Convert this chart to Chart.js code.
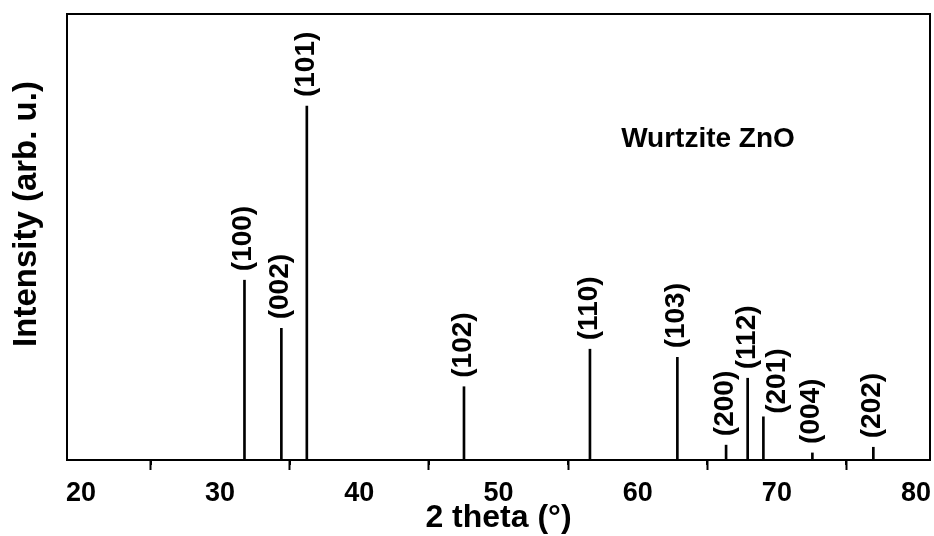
<!DOCTYPE html>
<html lang="en">

<head>
    <meta charset="UTF-8">
    <title>Wurtzite ZnO XRD</title>
    <script src="https://cdn.jsdelivr.net/npm/chart.js"></script>
    <style>
        body {
            margin: 0;
            background: #fff;
        }
    </style>
</head>

<body>
    <canvas id="grafico" width="934" height="536"></canvas>

    <script>
        // peak positions (2 theta), intensities and Miller indices
        const posiciones = [31.75, 34.40, 36.23, 47.52, 56.57, 62.85, 66.35, 67.90, 69.03, 72.55, 76.93];
        const intensidades = [50.8, 37.2, 100, 20.7, 31.3, 29.0, 4.2, 23.1, 12.2, 2.0, 3.6];
        const indices = ['(100)', '(002)', '(101)', '(102)', '(110)', '(103)', '(200)', '(112)', '(201)', '(004)', '(202)'];
        const ticksX = [20, 30, 40, 50, 60, 70, 80];
        const ticksMenores = [25, 35, 45, 55, 65, 75];

        const fuente = '"Liberation Sans", Arial, sans-serif';
        // label tweaks: (201) sits right of its line in the original
        const ajusteEtiqueta = { '(201)': { dx: 15, gap: 3 } };

        const dibujoExtra = {
            id: 'dibujoExtra',
            afterDraw(chart) {
                const ctx = chart.ctx;
                const a = chart.chartArea;
                const x = chart.scales.x;
                const y = chart.scales.y;
                ctx.save();

                // frame
                ctx.strokeStyle = '#000';
                ctx.lineWidth = 2;
                ctx.strokeRect(a.left, a.top, a.right - a.left, a.bottom - a.top);

                // minor ticks
                ctx.beginPath();
                ticksMenores.forEach(v => {
                    const px = Math.round(x.getPixelForValue(v));
                    ctx.moveTo(px, a.bottom);
                    ctx.lineTo(px, a.bottom + 5);
                });
                ctx.stroke();

                // peak labels
                ctx.fillStyle = '#000';
                ctx.font = 'bold 28px ' + fuente;
                ctx.textAlign = 'left';
                ctx.textBaseline = 'alphabetic';
                indices.forEach((t, i) => {
                    const aj = ajusteEtiqueta[t] || { dx: 0, gap: 9 };
                    const px = x.getPixelForValue(posiciones[i]) + aj.dx;
                    const py = y.getPixelForValue(intensidades[i]) - aj.gap;
                    ctx.save();
                    ctx.translate(px + 7, py);
                    ctx.rotate(-Math.PI / 2);
                    ctx.fillText(t, 0, 0);
                    ctx.restore();
                });

                // annotation
                ctx.textAlign = 'center';
                ctx.font = 'bold 28px ' + fuente;
                ctx.fillText('Wurtzite ZnO', 708, 147);

                // axis titles
                ctx.font = 'bold 32px ' + fuente;
                ctx.fillText('2 theta (°)', (a.left + a.right) / 2, 527);

                ctx.save();
                ctx.translate(36, 214);
                ctx.rotate(-Math.PI / 2);
                ctx.font = 'bold 33px ' + fuente;
                ctx.fillText('Intensity (arb. u.)', 0, 0);
                ctx.restore();

                ctx.restore();
            }
        };

        new Chart(document.getElementById('grafico'), {
            type: 'bar',
            data: {
                datasets: [{
                    data: posiciones.map((p, i) => ({ x: p, y: intensidades[i] })),
                    backgroundColor: '#000',
                    barThickness: 2,
                    grouped: false
                }]
            },
            options: {
                responsive: false,
                animation: false,
                layout: { padding: { left: 67, right: 4, top: 14, bottom: 0 } },
                plugins: {
                    legend: { display: false },
                    tooltip: { enabled: false }
                },
                scales: {
                    x: {
                        type: 'linear',
                        min: 19,
                        max: 81,
                        offset: false,
                        afterBuildTicks: s => { s.ticks = ticksX.map(v => ({ value: v })); },
                        afterFit: s => {
                            s.height = 76;
                            s.paddingLeft = 0;
                            s.paddingRight = 0;
                        },
                        grid: {
                            drawOnChartArea: false,
                            tickLength: 10,
                            tickWidth: 2,
                            color: '#000'
                        },
                        border: { display: true, color: '#000', width: 2 },
                        ticks: {
                            color: '#000',
                            padding: 7,
                            maxRotation: 0,
                            font: { family: fuente, size: 27, weight: 'bold' }
                        }
                    },
                    y: {
                        display: false,
                        min: 0,
                        max: 126
                    }
                }
            },
            plugins: [dibujoExtra]
        });
    </script>
</body>

</html>
